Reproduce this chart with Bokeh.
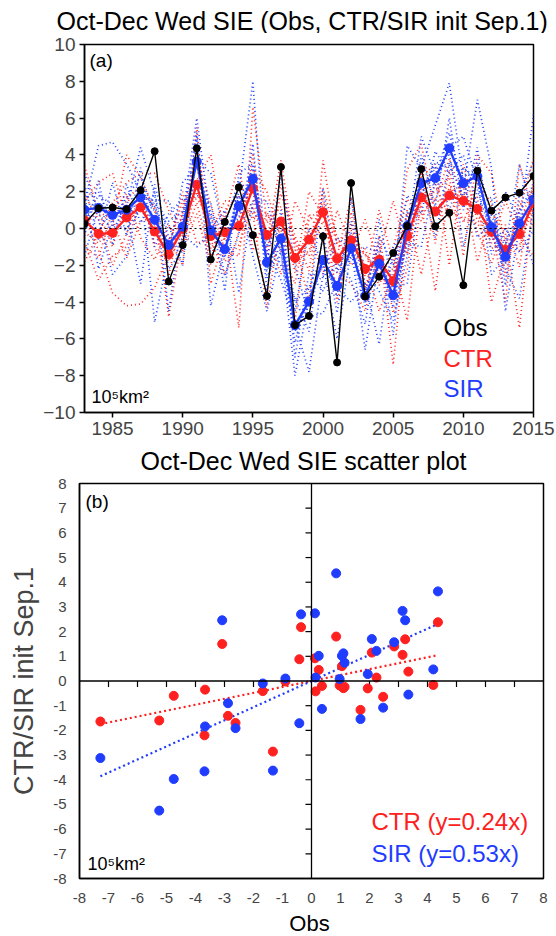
from bokeh.plotting import figure
from bokeh.models import Span, Label, FixedTicker
from bokeh.embed import file_html
from bokeh.resources import INLINE

# ---------------- data ----------------
years = list(range(1983, 2016))
obs = [0.25, 1.1, 1.14, 1.05, 2.08, 4.2, -2.88, -0.9, 4.36, -1.68, 0.36, 2.24, -0.36, -3.67, 3.34,
       -5.25, -4.75, -0.42, -7.28, 2.47, -3.69, -2.62, -1.33, 0.14, 3.23, 0.12, 0.85, -3.08, 3.14,
       0.97, 1.69, 1.94, 2.85]
ctr = [0.45, -0.29, -0.24, 0.6, 1.15, -0.16, -1.41, -0.02, 2.38, -0.41, -0.2, 0.14, 2.18, -0.35, 0.38,
       -1.6, -0.6, 0.88, -1.64, -0.64, -2.2, -1.7, -2.86, -0.42, 1.69, 0.92, 1.8, 1.5, 1.06,
       -0.18, -1.17, -0.3, 1.4]
sir = [1.02, 1.12, 0.74, 1.02, 1.7, 0.47, -0.9, 0.1, 3.63, -0.1, -1.13, 1.22, 2.7, -1.84, -0.55,
       -5.25, -3.97, -1.71, -3.12, -1.08, -3.66, -1.91, -3.63, 0.14, 2.46, 2.74, 4.36, 2.46, 2.84,
       0.08, -1.54, 0.28, 1.57]

# ensemble members (dotted)
ctr_m1 = [3.4, 0.9, -1.0, 1.6, 2.3, -1.1, -1.8, 0.8, 3.5, -1.1, 0.1, -5.4, 6.6, 0.3, 1.2, -2.4, 2.0, 0.7, -1.5, 1.7, -3.2, -0.8, -7.4, 0.3, 2.2, 1.5, 3.8, 1.6, 1.2, -0.4, -1.9, 1.0, 3.8]
ctr_m2 = [1.5, 2.5, 3.0, 0.7, 1.2, 0.2, -0.5, -2.0, 5.5, -3.0, -0.4, 0.9, 2.2, -0.7, 3.7, -1.2, -0.7, 1.8, -4.0, -0.5, -2.0, -4.5, -2.5, 3.2, 4.6, 0.8, 2.1, 2.3, -1.8, 0.9, -0.3, -5.4, 1.7]
ctr_m3 = [-0.2, -0.8, 0.2, 4.0, 2.8, 1.0, -4.8, -0.3, 2.0, -0.2, 1.5, 1.5, 0.8, -4.3, 0.5, -0.6, -4.0, 3.7, -0.9, -1.4, 0.5, -2.0, -3.9, -0.6, 1.3, -3.4, 2.4, 1.2, 1.7, -4.0, -1.4, 0.3, 2.3]
ctr_m4 = [0.6, -1.2, -3.5, -4.2, -4.1, -3.2, -1.4, 0.2, 2.6, 4.0, -0.6, 0.5, 3.2, 2.0, -0.6, -5.0, 0.5, 1.2, -2.4, -3.0, -4.5, -1.4, 1.5, -1.4, 2.8, 3.5, -2.0, 3.5, 0.4, 0.2, -4.0, 3.5, 0.9]
ctr_m5 = [-1.8, -0.3, 1.4, 2.5, 3.0, 3.0, 1.0, -0.7, 1.4, -1.5, 0.6, 3.5, -1.2, 0.8, -0.1, -1.9, -1.2, 0.4, -2.0, 0.3, -2.6, 1.0, -1.8, -5.0, 1.7, 2.0, 2.8, -1.5, 4.0, 3.0, -0.9, -0.9, 1.2]
ctr_m6 = [-0.7, -2.8, -1.5, -1.0, 1.8, -0.8, -1.0, 2.0, -0.8, -0.6, -2.5, -0.2, 1.5, -0.3, -2.5, 1.5, -0.2, -2.5, 1.0, -1.0, -1.4, -2.6, -3.2, 1.0, -2.5, 1.1, 1.7, 1.9, 0.8, -0.8, 1.5, -0.4, -1.5]
ctr_m7 = [1.8, 0.5, -2.0, -0.3, 2.0, 1.2, -2.6, 1.1, 3.9, 1.3, -1.2, -1.5, 4.1, -1.6, 1.9, -0.4, -2.3, 2.2, -0.5, -2.0, -1.1, -3.1, -1.0, 1.6, 0.4, 2.4, 0.6, 2.6, -0.2, -1.9, 0.2, -2.1, 2.7]
ctr_m8 = [-1.0, -1.6, 1.0, 1.9, -0.5, -1.7, 0.2, -1.2, 0.8, -2.0, 1.0, 1.8, 0.5, 0.9, -1.2, -3.0, 0.8, -0.6, -3.2, 0.9, -3.5, -0.4, -4.6, -2.2, 3.1, -0.8, 3.2, 0.3, 2.5, 1.4, -2.6, 1.5, 0.1]
ctr_m9 = [0.2, 0.9, 0.5, -1.6, 0.4, 0.6, -0.9, 1.5, 1.6, 0.7, -1.8, -0.9, 1.2, -1.2, 2.4, -0.8, -1.5, 1.5, -0.8, -0.1, -1.4, -2.4, -2.2, 0.8, 0.8, 1.6, 1.0, 0.5, 0.3, -1.1, -0.5, -1.2, 2.2]

sir_m1 = [1.3, 4.5, 4.7, 3.5, 2.0, 1.2, -0.8, 0.2, 5.2, -4.2, -1.0, 2.0, 8.0, -2.7, -0.8, -6.2, -3.2, -1.4, -3.7, 1.7, -3.5, -0.8, -5.8, 0.5, 2.8, 2.3, 4.4, 5.0, 2.5, 0.0, -1.9, 0.6, 1.4]
sir_m2 = [3.0, 0.8, -0.1, 1.2, 4.4, 1.9, -4.5, 0.7, 6.0, 0.3, -1.6, 2.5, 2.0, -1.2, -2.8, -5.2, -7.8, -2.5, -0.5, -1.0, -6.6, -1.6, -3.6, 4.5, 3.3, 5.6, 7.9, 2.6, -0.5, 0.4, -1.0, 3.5, 0.7]
sir_m3 = [0.5, 1.8, 1.3, 0.5, 2.3, -5.1, -1.3, 2.5, 3.4, 0.9, -3.4, 3.0, 3.5, -1.8, 3.0, -2.0, -4.8, -4.6, -2.9, -1.6, -1.0, -1.3, -4.3, -0.4, 5.0, 2.9, 5.2, 2.2, 7.0, 3.3, -4.5, 0.1, 6.2]
sir_m4 = [1.8, -2.2, 0.3, 1.7, 2.8, 0.9, 0.2, -2.0, 4.4, -0.4, -1.2, 1.8, -1.5, -4.5, -1.1, -8.0, -3.8, -1.9, -6.0, -1.2, -4.2, 0.5, -3.2, -3.0, 2.2, 3.4, 1.0, 3.3, 2.7, -2.5, -1.5, 1.0, 2.0]
sir_m5 = [-1.5, 1.2, 0.7, 0.9, -3.0, 2.4, -0.5, -0.6, 3.8, 3.0, -0.5, 1.5, 2.6, -2.3, -0.3, -4.5, 0.0, -2.1, -3.2, -4.0, -3.0, -6.3, -1.0, 0.0, 2.6, -0.5, 3.6, 2.8, 3.2, -0.5, 2.0, 0.3, -2.0]
sir_m6 = [0.9, 0.5, -2.5, -1.5, 1.7, 1.5, 1.5, -0.3, -1.0, -0.2, 1.0, -3.5, 1.5, 1.5, -1.4, -5.6, -4.2, 2.2, -2.4, -0.5, -3.8, -2.0, -3.9, -0.8, -1.0, 2.7, 4.1, -1.0, 2.1, -0.3, -2.2, -3.8, 1.1]
sir_m7 = [2.4, -0.6, 2.5, -0.4, 3.3, -1.0, 0.8, 1.6, 1.8, 1.4, -2.6, -0.3, 4.6, -3.4, 1.0, -7.0, -2.4, -3.4, -1.6, -2.8, -5.2, -0.4, -2.0, 1.8, 0.8, 4.2, 3.0, 4.0, 1.2, 1.7, -3.1, 1.9, 3.6]
sir_m8 = [-0.4, 2.6, -0.9, 2.4, 0.3, 2.0, -2.2, -1.2, 5.0, -1.6, 0.2, 2.6, 1.0, -0.3, -2.0, -3.8, -5.6, -0.2, -4.6, 0.4, -2.2, -3.4, -5.0, -1.5, 4.0, 1.2, 6.0, 1.0, 4.4, -1.4, 0.0, -1.3, -0.1]
sir_m9 = [1.6, 2.0, 0.2, 0.0, 1.0, 1.4, 0.4, 0.9, 2.6, 0.8, -0.2, 0.6, 3.4, -1.0, 0.4, -4.0, -3.2, -2.6, -2.2, -0.2, -3.0, -2.6, -2.8, 0.9, 1.8, 3.6, 3.4, 1.8, 3.6, 0.7, -0.8, 0.9, 2.4]

ctr_slope = 0.24
sir_slope = 0.53

year_ticks = [1985, 1990, 1995, 2000, 2005, 2010, 2015]
sie_ticks = [-10, -8, -6, -4, -2, 0, 2, 4, 6, 8, 10]
scatter_ticks = [-8, -7, -6, -5, -4, -3, -2, -1, 0, 1, 2, 3, 4, 5, 6, 7, 8]

title_a = "Oct-Dec Wed SIE (Obs, CTR/SIR init Sep.1)"
title_b = "Oct-Dec Wed SIE scatter plot"
xlabel_b = "Obs"
ylabel_b = "CTR/SIR init Sep.1"

# ---------------- style ----------------
FONT = "Liberation Sans"
RED = "#ff2020"
BLUE = "#1f3cff"
RED_D = "#ff2a2a"
BLUE_D = "#2544ff"
W = 556

def base_style(p):
    p.xgrid.visible = False
    p.ygrid.visible = False
    p.outline_line_color = "black"
    p.outline_line_width = 1.5
    p.outline_line_alpha = 1.0
    for ax in (p.xaxis[0], p.yaxis[0]):
        ax.major_label_text_font = FONT
        ax.axis_line_color = "black"
        ax.axis_line_width = 1.5
        ax.major_tick_line_width = 1.5
        ax.minor_tick_out = 0
        ax.minor_tick_in = 0
        ax.axis_label_text_font = FONT
        ax.axis_label_text_font_style = "normal"

def text(p, x, y, s, size, color="black", align="left"):
    p.add_layout(Label(x=x, y=y, x_units="screen", y_units="screen", text=s,
                       text_color=color, text_font=FONT, text_font_size=size,
                       text_align=align, text_baseline="middle"))

def text_strip(h, x, y, s, size, align="left"):
    t = figure(width=W, height=h, x_range=(0, 1), y_range=(0, 1),
               x_axis_type=None, y_axis_type=None, output_backend="svg",
               toolbar_location=None, min_border=0,
               min_border_left=0, min_border_right=0, min_border_top=0, min_border_bottom=0)
    t.outline_line_color = None
    t.xgrid.visible = False
    t.ygrid.visible = False
    text(t, x, y, s, size, align=align)
    return t

# ---------------- panel (a) ----------------
t1 = text_strip(33, 56, 13, title_a, "25px")

p1 = figure(width=W, height=415, x_range=(1983, 2015), y_range=(-10, 10),
            output_backend="svg", toolbar_location=None,
            min_border_left=84, min_border_right=23, min_border_top=11, min_border_bottom=36)
base_style(p1)
p1.xaxis.ticker = FixedTicker(ticks=year_ticks)
p1.yaxis.ticker = FixedTicker(ticks=sie_ticks)
p1.yaxis.major_label_overrides = {v: str(v).replace("-", "\u2212") for v in sie_ticks}
for ax in (p1.xaxis[0], p1.yaxis[0]):
    ax.major_tick_out = 5
    ax.major_tick_in = 0
    ax.major_label_text_font_size = "19px"
    ax.major_label_standoff = 4

for m in (ctr_m1, ctr_m2, ctr_m3, ctr_m4, ctr_m5, ctr_m6, ctr_m7, ctr_m8, ctr_m9):
    p1.line(years, m, line_color=RED_D, line_width=1.7, line_dash="1 3")
for m in (sir_m1, sir_m2, sir_m3, sir_m4, sir_m5, sir_m6, sir_m7, sir_m8, sir_m9):
    p1.line(years, m, line_color=BLUE_D, line_width=1.7, line_dash="1 3")

p1.add_layout(Span(location=0, dimension="width", line_color="black", line_width=1, line_dash="2 3"))

p1.line(years, ctr, line_color=RED, line_width=2.3)
p1.scatter(years, ctr, size=9, fill_color=RED, line_color=RED)
p1.line(years, sir, line_color=BLUE, line_width=2.3)
p1.scatter(years, sir, size=9, fill_color=BLUE, line_color=BLUE)
p1.line(years, obs, line_color="black", line_width=1.4)
p1.scatter(years, obs, size=7, fill_color="black", line_color="black")

text(p1, 5, 352, "(a)", "19px")
text(p1, 7, 16, "10\u2075km\u00b2", "18px")
for txt, col, yy in (("Obs", "black", 85), ("CTR", RED, 54), ("SIR", BLUE, 24)):
    text(p1, 359, yy, txt, "24px", color=col)

# ---------------- panel (b) ----------------
t2 = text_strip(26, 140, 14, title_b, "25px")

p2 = figure(width=W, height=436, x_range=(-8, 8), y_range=(-8, 8),
            output_backend="svg", toolbar_location=None,
            min_border_left=79, min_border_right=13, min_border_top=9, min_border_bottom=32)
base_style(p2)
for ax in (p2.xaxis[0], p2.yaxis[0]):
    ax.ticker = FixedTicker(ticks=scatter_ticks)
    ax.major_label_overrides = {v: str(v) for v in scatter_ticks}
    ax.major_tick_out = 0
    ax.major_tick_in = 0
    ax.major_label_text_font_size = "15px"
p2.xaxis.major_label_standoff = 14
p2.yaxis.major_label_standoff = 13
p2.yaxis.axis_label = ylabel_b
p2.yaxis.axis_label_text_font_size = "27px"
p2.yaxis.axis_label_standoff = 11

# central axes with ticks
p2.add_layout(Span(location=0, dimension="width", line_color="black", line_width=1.3))
p2.add_layout(Span(location=0, dimension="height", line_color="black", line_width=1.3))
inner = [t for t in scatter_ticks if t not in (scatter_ticks[0], 0, scatter_ticks[-1])]
tick_len_y = 6 * 16 / 395.0
tick_len_x = 6 * 16 / 464.0
p2.segment(x0=inner, y0=[0] * len(inner), x1=inner, y1=[-tick_len_y] * len(inner),
           line_color="black", line_width=1.2)
p2.segment(x0=[0] * len(inner), y0=inner, x1=[-tick_len_x] * len(inner), y1=inner,
           line_color="black", line_width=1.2)

# regression lines
xfit = [min(obs), max(obs)]
p2.line(xfit, [ctr_slope * v for v in xfit], line_color=RED, line_width=2.2, line_dash="2 3")
p2.line(xfit, [sir_slope * v for v in xfit], line_color=BLUE, line_width=2.2, line_dash="2 3")

p2.scatter(obs, ctr, size=9, fill_color=RED, line_color=RED)
p2.scatter(obs, sir, size=9, fill_color=BLUE, line_color=BLUE)

text(p2, 6, 377, "(b)", "19px")
text(p2, 8, 15, "10\u2075km\u00b2", "18px")
text(p2, 292, 57, "CTR (y=%.2fx)" % ctr_slope, "24px", color=RED)
text(p2, 292, 25, "SIR (y=%.2fx)" % sir_slope, "24px", color=BLUE)

t3 = text_strip(26, 309, 13, xlabel_b, "22px", align="center")

html = file_html([t1, p1, t2, p2, t3], INLINE)
with open("out.html", "w", encoding="utf-8") as f:
    f.write(html)
